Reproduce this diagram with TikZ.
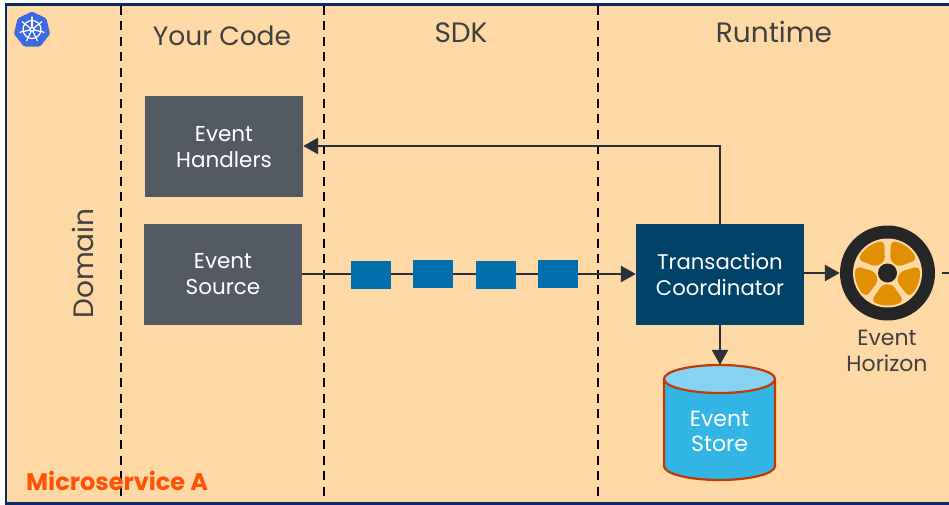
\documentclass[tikz,border=0pt]{standalone}
\usepackage{fontspec}
\setmainfont{Poppins}
\usetikzlibrary{arrows.meta,shapes.geometric}
\definecolor{bgc}{HTML}{FFD9A5}
\definecolor{borderc}{HTML}{0B2B66}
\definecolor{greyc}{HTML}{535A64}
\definecolor{squarec}{HTML}{006FAB}
\definecolor{tcc}{HTML}{004268}
\definecolor{cylc}{HTML}{33B6E6}
\definecolor{cyltop}{HTML}{85D2F1}
\definecolor{cylline}{HTML}{C23B05}
\definecolor{linec}{HTML}{2A2F38}
\definecolor{textc}{HTML}{404040}
\definecolor{orangec}{HTML}{FF5207}
\definecolor{bladec}{HTML}{E09000}
\definecolor{tirec}{HTML}{262626}
\definecolor{rimc}{HTML}{FFD9A5}
\definecolor{helmc}{HTML}{3E68E0}
\tikzset{
  x=1pt,y=-1pt,
  boxnode/.style={minimum width=158pt,minimum height=101pt,fill=greyc,text=white,align=center,inner sep=0pt,font=\fontsize{21.5}{26}\selectfont},
  tcnode/.style={minimum width=168pt,minimum height=101pt,fill=tcc,text=white,align=center,inner sep=0pt,font=\fontsize{21.2}{26}\selectfont},
  msg/.style={minimum width=40pt,minimum height=28pt,fill=squarec,inner sep=0pt},
  sep/.style={black,line width=1.6pt,dash pattern=on 9pt off 6.5pt},
  conn/.style={linec,line width=2.8pt,-{Triangle[length=15pt,width=16pt]}},
  head/.style={text=textc,inner sep=0pt,font=\fontsize{28}{32}\selectfont},
  lab/.style={text=textc,inner sep=0pt,align=center,font=\fontsize{22}{26}\selectfont},
}
\begin{document}
\begin{tikzpicture}
\useasboundingbox (0,0) rectangle (949,505);
\fill[white] (0,0) rectangle (949,505);
\draw[borderc,line width=2.4pt,fill=bgc] (6,4.5) -- (952,4.5) -- (952,503.5) -- (6,503.5) -- cycle;
% separators
\coordinate (s1a) at (121,6); \coordinate (s1b) at (121,501);
\coordinate (s2a) at (324,6); \coordinate (s2b) at (324,501);
\coordinate (s3a) at (598,6); \coordinate (s3b) at (598,501);
\draw[sep] (s1a) -- (s1b);
\draw[sep] (s2a) -- (s2b);
\draw[sep] (s3a) -- (s3b);
% helm
\node[regular polygon,regular polygon sides=7,minimum size=37pt,inner sep=0pt,fill=helmc,rounded corners=1.5pt] (helm) at (32,30) {};
\draw[white,line width=1.2pt] (32,29.5) circle (9);
\draw[white,line width=1.5pt] (32,29.5) circle (2);
\foreach \a in {90,141.4,192.9,244.3,295.7,347.1,38.6}
  \draw[white,line width=1.2pt,line cap=round] (32,29.5) ++(\a:-2.5) -- ++(\a:-10);
% headers
\node[head,font=\fontsize{26.5}{30}\selectfont] (hcode) at (222,36) {Your Code};
\node[head] (hsdk) at (461,33) {SDK};
\node[head] (hrun) at (774,32) {Runtime};
\node[head,rotate=90] (hdom) at (83,263.5) {Domain};
\node[anchor=west,inner sep=0pt,text=orangec,font=\fontsize{24}{28}\selectfont\bfseries] (ms) at (26,481) {Microservice A};
% boxes
\node[boxnode,text depth=0pt] (handlers) at (224,146.5) {Event\\Handlers};
\node[boxnode] (source) at (223,274.5) {Event\\Source};
\node[tcnode] (tc) at (720,274.5) {Transaction\\Coordinator};
% wheel
\node[circle,minimum size=95pt,inner sep=0pt,fill=tirec] (wheel) at (887.5,273) {};
\begin{scope}[shift={(wheel.center)},x=1pt,y=1pt]
  \fill[rimc] (0,0) circle (34.5);
  \foreach \a in {54,126,198,270,342}
    \fill[bladec,rounded corners=4pt]
      (\a-30:32) arc[start angle=\a-30,end angle=\a+30,radius=32]
      -- (\a+24:12.5) -- (\a-24:12.5) -- cycle;
  \fill[tirec] (0,0) circle (9.5);
\end{scope}
\node[lab] (wlabel) at (887,351) {Event\\Horizon};
% store
\node[minimum width=111pt,minimum height=115pt,inner sep=0pt] (store) at (719.5,422.5) {};
\draw[cylline,line width=2.2pt,fill=cylc] (664,379) -- (664,466) arc[start angle=180,end angle=0,x radius=55.5,y radius=14] -- (775,379);
\draw[cylline,line width=2.2pt,fill=cyltop] (719.5,379) ellipse[x radius=55.5,y radius=14];
\node[inner sep=0pt,align=center,text=white,font=\fontsize{22}{25}\selectfont] (stext) at (719.5,431) {Event\\Store};
% connectors
\coordinate (wout) at (949,273);
\coordinate (tcup) at (720,146);
\draw[conn] (source.east |- 0,274) -- (tc.west |- 0,274);
\draw[conn] (tc.north -| 720,0) -- (tcup) -- (handlers.east |- tcup);
\draw[conn] (tc.south -| 720,0) -- (store.north -| 720,0);
\draw[conn] (tc.east |- 0,273) -- (wheel.west |- 0,273);
\draw[linec,line width=2.8pt] (942,273) -- (wout);
% messages
\node[msg] (m1) at (371,275) {};
\node[msg] (m2) at (433,274) {};
\node[msg] (m3) at (496,275) {};
\node[msg] (m4) at (558,274) {};
\end{tikzpicture}
\end{document}
